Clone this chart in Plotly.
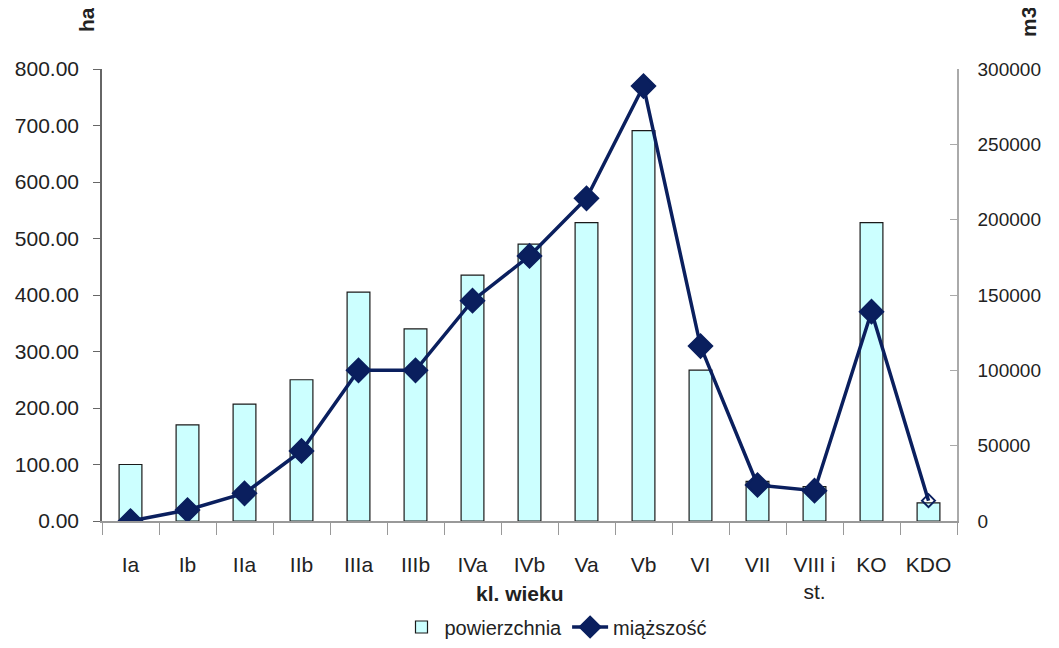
import plotly.graph_objects as go

categories = ["Ia", "Ib", "IIa", "IIb", "IIIa", "IIIb", "IVa", "IVb", "Va", "Vb", "VI", "VII", "VIII i<br>st.", "KO", "KDO"]
powierzchnia = [100, 170, 207, 250, 405, 340, 435, 490, 528, 691, 267, 70, 61, 528, 32]
miazszosc = [0, 7300, 18400, 46500, 100000, 100000, 146200, 175900, 214200, 288700, 116100, 23900, 20100, 138900, 13500]
left_ticks = [0, 100, 200, 300, 400, 500, 600, 700, 800]
right_ticks = [0, 50000, 100000, 150000, 200000, 250000, 300000]

navy = "#0A1F5E"
font = "Liberation Sans"

# the page body has an 8px margin, so the figure is offset by 8px
OFF = 8
W, H = 1059 - 2 * OFF, 648 - 2 * OFF
# desired plot area in page pixels: x 102..957, y 69..521
L = 102 - OFF
T = 69 - OFF
R = W - (957 - OFF)
B = H - (521 - OFF)
pw = W - L - R
ph = H - T - B

def px_x(x):
    return (x - OFF - L) / pw

def px_y(y):
    return (H - B - (y - OFF)) / ph

fig = go.Figure()
fig.add_trace(go.Bar(
    x=categories, y=powierzchnia, name="powierzchnia",
    marker=dict(color="#CCFFFF", line=dict(color="#1a1a1a", width=1.2)),
    width=0.4, yaxis="y",
))
symbols = ["diamond"] * (len(categories) - 1) + ["diamond-open"]
sizes = [18] * (len(categories) - 1) + [10]
fig.add_trace(go.Scatter(
    x=categories, y=miazszosc, name="miąższość", yaxis="y2",
    mode="lines+markers",
    line=dict(color=navy, width=3.5),
    marker=dict(symbol=symbols, size=sizes, color=navy, opacity=1,
                line=dict(color=navy, width=2)),
))

fig.update_layout(
    width=W, height=H,
    margin=dict(l=L, r=R, t=T, b=B, autoexpand=False),
    plot_bgcolor="white", paper_bgcolor="white",
    font=dict(family=font, size=21, color="#222222"),
    showlegend=True,
    legend=dict(orientation="h", x=px_x(555), xanchor="center", y=px_y(627), yanchor="middle",
                font=dict(size=20), itemsizing="trace", itemwidth=36, tracegroupgap=0),
    xaxis=dict(
        range=[-0.5, 14.5], automargin=False,
        showline=True, linecolor="#999999", linewidth=1.5,
        ticks="outside", tickson="boundaries", ticklen=12, tickcolor="#999999",
        tickfont=dict(size=21), showgrid=False, ticklabelstandoff=24,
    ),
    yaxis=dict(
        range=[0, 800], tickvals=left_ticks, tickformat=".2f", automargin=False,
        showline=True, linecolor="#666666", linewidth=1.5,
        ticks="outside", ticklen=7, tickcolor="#666666",
        showgrid=False, zeroline=False, tickfont=dict(size=21), ticklabelstandoff=10,
    ),
    yaxis2=dict(
        range=[0, 300000], tickvals=right_ticks, overlaying="y", side="right", automargin=False,
        showline=True, linecolor="#aaaaaa", linewidth=1.5,
        ticks="inside", ticklen=7, tickcolor="#aaaaaa",
        showgrid=False, zeroline=False, tickformat="d", tickfont=dict(size=19), ticklabelstandoff=15,
    ),
    annotations=[
        dict(text="<b>ha</b>", textangle=-90, x=px_x(86), y=px_y(20),
             xref="paper", yref="paper", showarrow=False, font=dict(size=21),
             xanchor="center", yanchor="middle"),
        dict(text="<b>m3</b>", textangle=-90, x=px_x(1029), y=px_y(22),
             xref="paper", yref="paper", showarrow=False, font=dict(size=21),
             xanchor="center", yanchor="middle"),
        dict(text="<b>kl. wieku</b>", x=px_x(520), y=px_y(593),
             xref="paper", yref="paper", showarrow=False, font=dict(size=21),
             xanchor="center", yanchor="middle"),
    ],
)
fig.write_html("out.html")
